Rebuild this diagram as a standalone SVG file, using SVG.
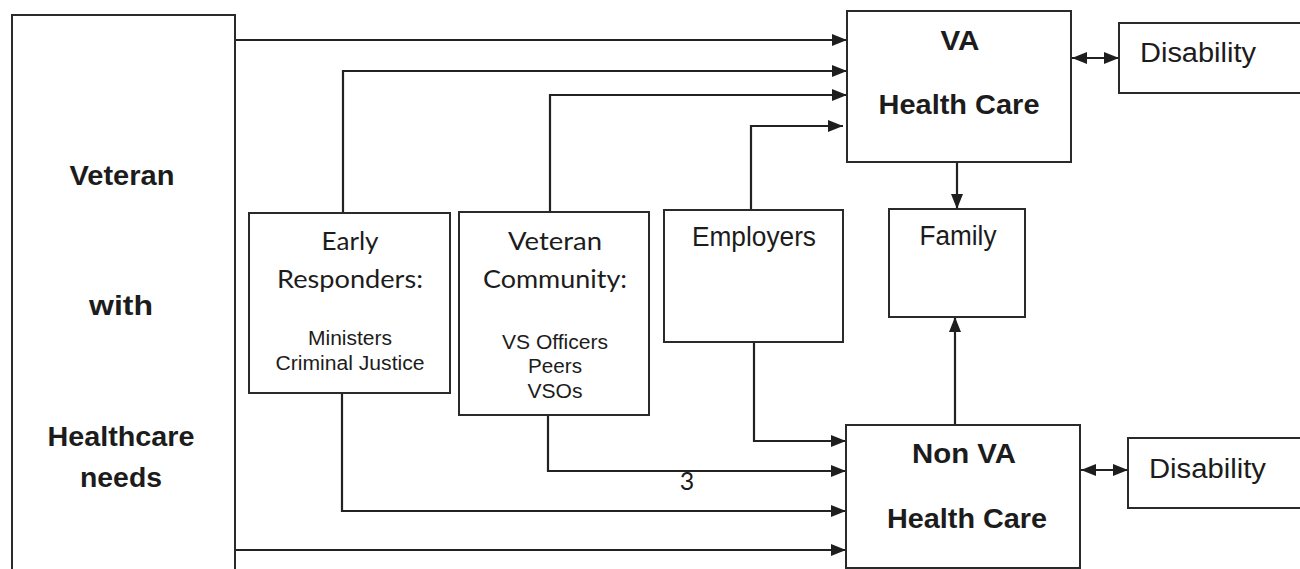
<svg xmlns="http://www.w3.org/2000/svg" width="1300" height="569" viewBox="0 0 1300 569">
  <defs>
    <marker id="arrow" viewBox="0 0 15 12" refX="15" refY="6" markerWidth="15" markerHeight="12" markerUnits="userSpaceOnUse" orient="auto">
      <path d="M0,0 L15,6 L0,12 Z" fill="#1e1e1e"/>
    </marker>
    <marker id="arrowStart" viewBox="0 0 15 12" refX="0" refY="6" markerWidth="15" markerHeight="12" markerUnits="userSpaceOnUse" orient="auto">
      <path d="M15,0 L0,6 L15,12 Z" fill="#1e1e1e"/>
    </marker>
    <style>
      .box { fill: #ffffff; stroke: #2a2a2a; stroke-width: 2; }
      .link { fill: none; stroke: #222222; stroke-width: 2.2; }
      .to { marker-end: url(#arrow); }
      .both { marker-start: url(#arrowStart); marker-end: url(#arrow); }
      text { fill: #1c1c1c; text-anchor: middle; }
      .big { font-family: "Liberation Sans", Arial, sans-serif; font-weight: bold; font-size: 28px; }
      .plain { font-family: "Liberation Sans", Arial, sans-serif; font-size: 27px; }
      .small { font-family: "Liberation Sans", Arial, sans-serif; font-size: 20px; }
      .head { font-family: Lato, "Open Sans", sans-serif; font-size: 25px; }
      .start { text-anchor: start; }
    </style>
  </defs>
  <rect width="1300" height="569" fill="#ffffff"/>

  <!-- connectors -->
  <g id="connectors">
    <!-- into VA health care -->
    <path class="link to" d="M235,40 H847"/>
    <path class="link to" d="M343,213 V71 H847"/>
    <path class="link to" d="M550,212 V95 H847"/>
    <path class="link to" d="M751,210 V126 H843"/>
    <!-- into non VA health care -->
    <path class="link to" d="M754,342 V441 H846"/>
    <path class="link to" d="M548,415 V471 H846"/>
    <path class="link to" d="M342,393 V511 H846"/>
    <path class="link to" d="M235,550 H846"/>
    <!-- family -->
    <path class="link to" d="M957,162 V209"/>
    <path class="link to" d="M955,425 V317"/>
    <!-- disability links -->
    <path class="link both" d="M1072,58 H1119"/>
    <path class="link both" d="M1081,470 H1128"/>
    <text class="head" x="687" y="490" font-size="23">3</text>
  </g>

  <g id="veteran">
    <rect class="box" x="12" y="15" width="223" height="570"/>
    <text class="big" x="122" y="185" textLength="105" lengthAdjust="spacingAndGlyphs">Veteran</text>
    <text class="big" x="121" y="315" textLength="64" lengthAdjust="spacingAndGlyphs">with</text>
    <text class="big" x="121" y="446" textLength="147" lengthAdjust="spacingAndGlyphs">Healthcare</text>
    <text class="big" x="121" y="487" textLength="82" lengthAdjust="spacingAndGlyphs">needs</text>
  </g>

  <g id="va-health-care">
    <rect class="box" x="847" y="11" width="224" height="151"/>
    <text class="big" x="960" y="50" textLength="39" lengthAdjust="spacingAndGlyphs">VA</text>
    <text class="big" x="959" y="114" textLength="161" lengthAdjust="spacingAndGlyphs">Health Care</text>
  </g>

  <g id="disability-va">
    <rect class="box" x="1119" y="23" width="200" height="70"/>
    <text class="plain start" x="1140" y="62" textLength="116" lengthAdjust="spacingAndGlyphs">Disability</text>
  </g>

  <g id="early-responders">
    <rect class="box" x="249" y="213" width="201" height="180"/>
    <text class="head" x="350" y="250" textLength="57" lengthAdjust="spacingAndGlyphs">Early</text>
    <text class="head" x="350" y="288" textLength="146" lengthAdjust="spacingAndGlyphs">Responders:</text>
    <text class="small" x="350" y="345" textLength="84" lengthAdjust="spacingAndGlyphs">Ministers</text>
    <text class="small" x="350" y="370" textLength="149" lengthAdjust="spacingAndGlyphs">Criminal Justice</text>
  </g>

  <g id="veteran-community">
    <rect class="box" x="459" y="212" width="190" height="203"/>
    <text class="head" x="555" y="250" textLength="94" lengthAdjust="spacingAndGlyphs">Veteran</text>
    <text class="head" x="555" y="288" textLength="144" lengthAdjust="spacingAndGlyphs">Community:</text>
    <text class="small" x="555" y="349" textLength="106" lengthAdjust="spacingAndGlyphs">VS Officers</text>
    <text class="small" x="555" y="373" textLength="54" lengthAdjust="spacingAndGlyphs">Peers</text>
    <text class="small" x="555" y="398" textLength="55" lengthAdjust="spacingAndGlyphs">VSOs</text>
  </g>

  <g id="employers">
    <rect class="box" x="664" y="210" width="179" height="132"/>
    <text class="plain" x="754" y="246" textLength="124" lengthAdjust="spacingAndGlyphs">Employers</text>
  </g>

  <g id="family">
    <rect class="box" x="889" y="209" width="136" height="108"/>
    <text class="plain" x="958" y="245" textLength="77" lengthAdjust="spacingAndGlyphs">Family</text>
  </g>

  <g id="non-va-health-care">
    <rect class="box" x="846" y="425" width="234" height="143"/>
    <text class="big" x="964" y="463" textLength="104" lengthAdjust="spacingAndGlyphs">Non VA</text>
    <text class="big" x="967" y="528" textLength="160" lengthAdjust="spacingAndGlyphs">Health Care</text>
  </g>

  <g id="disability-non-va">
    <rect class="box" x="1128" y="438" width="200" height="70"/>
    <text class="plain start" x="1149" y="478" textLength="117" lengthAdjust="spacingAndGlyphs">Disability</text>
  </g>
</svg>
